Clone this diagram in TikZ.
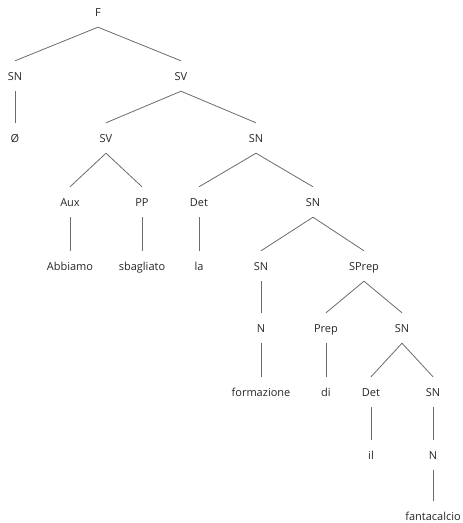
\documentclass[tikz,border=0pt]{standalone}
\usepackage{fontspec}
\setmainfont{Open Sans}
\begin{document}
\begin{tikzpicture}[x=1pt,y=-1pt,
  lab/.style={font=\fontsize{11}{13}\selectfont, text height=8pt, text depth=0pt, inner sep=0pt, minimum height=30pt, text=black!85},
  edge/.style={draw=black!58, line width=0.8pt}]
\useasboundingbox (0,0) rectangle (463,523);
\node[lab] (F) at (98,12) {F};
\node[lab] (SN1) at (15,76) {SN};
\node[lab] (SV1) at (181,76) {SV};
\node[lab] (O) at (15,138) {Ø};
\node[lab] (SV2) at (106,138) {SV};
\node[lab] (SN2) at (256,138) {SN};
\node[lab] (Aux) at (70,202) {Aux};
\node[lab] (PP) at (142,202) {PP};
\node[lab] (Det1) at (199,202) {Det};
\node[lab] (SN3) at (313,202) {SN};
\node[lab] (Abb) at (70,266) {Abbiamo};
\node[lab] (sba) at (142,266) {sbagliato};
\node[lab] (la) at (199,266) {la};
\node[lab] (SN4) at (261,266) {SN};
\node[lab] (SPrep) at (364,266) {SPrep};
\node[lab] (N1) at (261,328) {N};
\node[lab] (Prep) at (326,328) {Prep};
\node[lab] (SN5) at (402,328) {SN};
\node[lab] (form) at (261,392) {formazione};
\node[lab] (di) at (326,392) {di};
\node[lab] (Det2) at (371,392) {Det};
\node[lab] (SN6) at (433,392) {SN};
\node[lab] (il) at (371,455) {il};
\node[lab] (N2) at (433,455) {N};
\node[lab] (fanta) at (433,516) {fantacalcio};
\foreach \p/\c in {F/SN1,F/SV1,SN1/O,SV1/SV2,SV1/SN2,SV2/Aux,SV2/PP,SN2/Det1,SN2/SN3,Aux/Abb,PP/sba,Det1/la,SN3/SN4,SN3/SPrep,SN4/N1,SPrep/Prep,SPrep/SN5,N1/form,Prep/di,SN5/Det2,SN5/SN6,Det2/il,SN6/N2,N2/fanta}
  \draw[edge] (\p.south) -- (\c.north);
\end{tikzpicture}
\end{document}
